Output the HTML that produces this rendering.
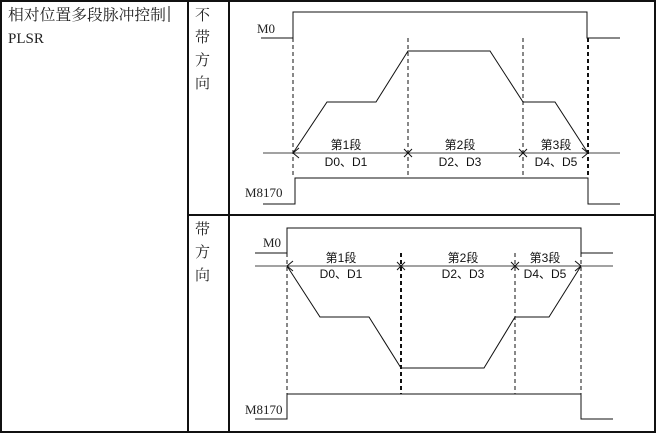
<!DOCTYPE html>
<html><head><meta charset="utf-8"><style>
html,body{margin:0;padding:0;background:#fff;}
svg{display:block;}
.t{font-family:"Liberation Serif","Noto Serif CJK SC",serif;fill:#222;}
.s{font-family:"Liberation Sans","Noto Sans CJK SC",sans-serif;fill:#111;font-size:12px;}
</style></head><body>
<svg width="656" height="433" viewBox="0 0 656 433" xmlns="http://www.w3.org/2000/svg">
<g stroke="#111" stroke-width="2" fill="none">
<rect x="1" y="1" width="654" height="431"/>
<line x1="188" y1="0" x2="188" y2="433"/>
<line x1="229" y1="0" x2="229" y2="433"/>
<line x1="188" y1="215" x2="656" y2="215"/>
</g>
<text class="t" x="8" y="20" font-size="15.5" textLength="158" lengthAdjust="spacingAndGlyphs">相对位置多段脉冲控制</text>
<line x1="169" y1="6" x2="169" y2="22" stroke="#111" stroke-width="1"/>
<text class="t" x="8" y="43" font-size="15">PLSR</text>
<g class="t" font-size="15">
<text x="195" y="20">不</text><text x="195" y="42">带</text><text x="195" y="65">方</text><text x="195" y="88">向</text>
<text x="195" y="234">带</text><text x="195" y="257">方</text><text x="195" y="280">向</text>
</g>

<!-- top diagram -->
<g stroke="#111" stroke-width="1" fill="none">
<polyline points="261,38 293,38 293,12 587,12 587,38 620,38"/>
<polyline points="263,204 295,204 295,178 588,178 588,204 620,204"/>
<line x1="263" y1="153" x2="620" y2="153" stroke="#444"/>
<polyline points="293,153 327,102 376,102 408,51 490,51 523,102 555,102 588,153"/>
<g stroke-dasharray="4,3">
<line x1="293" y1="38" x2="293" y2="178"/>
<line x1="408" y1="38" x2="408" y2="178"/>
<line x1="523" y1="38" x2="523" y2="178"/>
<line x1="588" y1="38" x2="588" y2="178" stroke-width="2"/>
</g>
<polyline points="299,148 293,153 299,158"/>
<polyline points="582,148 588,153 582,158"/>
<path d="M404,149 L412,157 M412,149 L404,157"/>
<path d="M519,149 L527,157 M527,149 L519,157"/>
</g>
<text class="t" x="257" y="33" font-size="13">M0</text>
<text class="t" x="245" y="197" font-size="13">M8170</text>
<g class="s" text-anchor="middle">
<text x="346" y="149">第1段</text><text x="346" y="166">D0、D1</text>
<text x="460" y="149">第2段</text><text x="460" y="166">D2、D3</text>
<text x="556" y="149">第3段</text><text x="556" y="166">D4、D5</text>
</g>

<!-- bottom diagram -->
<g stroke="#111" stroke-width="1" fill="none">
<polyline points="255,253 287,253 287,228 581,228 581,253 613,253"/>
<polyline points="255,419 287,419 287,394 581,394 581,419 613,419"/>
<line x1="255" y1="266" x2="613" y2="266" stroke="#444"/>
<polyline points="287,266 320,317 369,317 401,368 484,368 515,317 549,317 581,266"/>
<g stroke-dasharray="4,3">
<line x1="287" y1="253" x2="287" y2="394"/>
<line x1="401" y1="253" x2="401" y2="394" stroke-width="2"/>
<line x1="515" y1="253" x2="515" y2="394"/>
<line x1="581" y1="253" x2="581" y2="394"/>
</g>
<polyline points="293,261 287,266 293,271"/>
<polyline points="575,261 581,266 575,271"/>
<path d="M397,262 L405,270 M405,262 L397,270"/>
<path d="M511,262 L519,270 M519,262 L511,270"/>
</g>
<text class="t" x="263" y="247" font-size="13">M0</text>
<text class="t" x="245" y="414" font-size="13">M8170</text>
<g class="s" text-anchor="middle">
<text x="341" y="262">第1段</text><text x="341" y="278">D0、D1</text>
<text x="463" y="262">第2段</text><text x="463" y="278">D2、D3</text>
<text x="545" y="262">第3段</text><text x="545" y="278">D4、D5</text>
</g>
</svg>
</body></html>
